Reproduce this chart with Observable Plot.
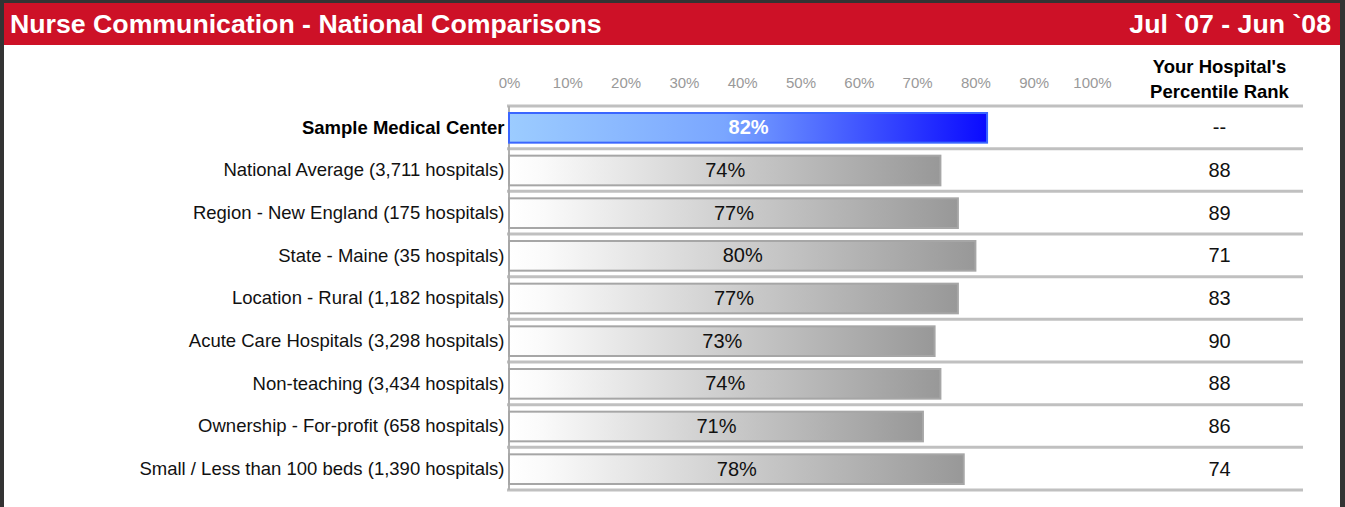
<!DOCTYPE html>
<html><head><meta charset="utf-8">
<script src="https://cdn.jsdelivr.net/npm/d3@7"></script>
<script src="https://cdn.jsdelivr.net/npm/@observablehq/plot@0.6"></script>
<style>
body{margin:0;background:#fff;font-family:Arial,"Liberation Sans",sans-serif;}
#wrap{position:relative;width:1345px;height:507px;overflow:hidden;background:#fff}
#hdr{position:absolute;left:0;top:0;width:1345px;height:45px;background:#cd1127;color:#fff;font-weight:bold;font-size:26.7px;line-height:30px}
#hdr .t{position:absolute;left:10px;top:9px;}
#hdr .d{position:absolute;right:14px;top:9px;}
.bl{position:absolute;left:0;top:0;width:4px;height:507px;background:#333}
.bt{position:absolute;left:0;top:0;width:1345px;height:3px;background:#333}
.br{position:absolute;right:0;top:0;width:5px;height:507px;background:#333}
#chart{position:absolute;left:0;top:45px}
</style></head>
<body>
<div id="wrap">
  <div id="hdr"><span class="t">Nurse Communication - National Comparisons</span><span class="d">Jul `07 - Jun `08</span></div>
  <div id="chart"></div>
  <div class="bt"></div><div class="bl"></div><div class="br"></div>
</div>
<script>
const categories = [
  "Sample Medical Center",
  "National Average (3,711 hospitals)",
  "Region - New England (175 hospitals)",
  "State - Maine (35 hospitals)",
  "Location - Rural (1,182 hospitals)",
  "Acute Care Hospitals (3,298 hospitals)",
  "Non-teaching (3,434 hospitals)",
  "Ownership - For-profit (658 hospitals)",
  "Small / Less than 100 beds (1,390 hospitals)"
];
const values = [82, 74, 77, 80, 77, 73, 74, 71, 78];
const ranks = ["--", "88", "89", "71", "83", "90", "88", "86", "74"];
const xTicks = [0, 10, 20, 30, 40, 50, 60, 70, 80, 90, 100];
const rankHeader = "Your Hospital's\nPercentile Rank";

const rows = categories.map((c, i) => ({i, category: c, value: values[i], rank: ranks[i], own: i === 0}));
const font = "Arial, 'Liberation Sans', sans-serif";

const defs = () => {
  const d = d3.create("svg:defs");
  const g = d.append("linearGradient").attr("id", "grayGrad").attr("x1", 0).attr("x2", 1).attr("y1", 0).attr("y2", 0);
  g.append("stop").attr("offset", "0%").attr("stop-color", "#ffffff");
  g.append("stop").attr("offset", "8%").attr("stop-color", "#fafafa");
  g.append("stop").attr("offset", "100%").attr("stop-color", "#989898");
  const b = d.append("linearGradient").attr("id", "blueGrad").attr("x1", 0).attr("x2", 1).attr("y1", 0).attr("y2", 0);
  b.append("stop").attr("offset", "0%").attr("stop-color", "#9cccff");
  b.append("stop").attr("offset", "45%").attr("stop-color", "#7aa6ff");
  b.append("stop").attr("offset", "100%").attr("stop-color", "#0a0aff");
  return d.node();
};

const chart = Plot.plot({
  width: 1345, height: 462,
  marginLeft: 507, marginRight: 42, marginTop: 61, marginBottom: 17,
  x: {domain: [0, 100], range: [509, 1092]},
  y: {domain: [0, categories.length], range: [61, 445], axis: null},
  style: {fontFamily: font, background: "transparent", overflow: "visible"},
  marks: [
    defs,
    Plot.axisX({anchor: "top", ticks: xTicks, tickFormat: d => d + "%", tickSize: 0, tickPadding: 19, fontSize: 15, color: "#999", label: null}),
    Plot.ruleY(d3.range(categories.length + 1), {stroke: "#c0c0c0", strokeWidth: 3, dy: -0.5}),
    Plot.ruleX([0], {stroke: "#b0b0b0", strokeWidth: 2, dx: -0.5}),
    Plot.rect(rows.filter(d => !d.own), {x1: 0, x2: "value", y1: "i", y2: d => d.i + 1, insetTop: 7, insetBottom: 6, fill: "url(#grayGrad)", stroke: "#a6a6a6", strokeWidth: 2}),
    Plot.rect(rows.filter(d => d.own), {x1: 0, x2: "value", y1: "i", y2: d => d.i + 1, insetTop: 7, insetBottom: 6, fill: "url(#blueGrad)", stroke: "#3a66ff", strokeWidth: 2}),
    Plot.text(rows.filter(d => !d.own), {x: d => d.value / 2, y: d => d.i + 0.5, text: d => d.value + "%", fontSize: 20, fill: "#111"}),
    Plot.text(rows.filter(d => d.own), {x: d => d.value / 2, y: d => d.i + 0.5, text: d => d.value + "%", fontSize: 20, fontWeight: "bold", fill: "#fff"}),
    Plot.text(rows.filter(d => !d.own), {x: 0, y: d => d.i + 0.5, text: "category", textAnchor: "end", dx: -5, fontSize: 18.5, fill: "#111"}),
    Plot.text(rows.filter(d => d.own), {x: 0, y: d => d.i + 0.5, text: "category", textAnchor: "end", dx: -5, fontSize: 18.5, fontWeight: "bold", fill: "#000"}),
    Plot.text(rows, {frameAnchor: "right", y: d => d.i + 0.5, text: "rank", textAnchor: "middle", dx: -84, fontSize: 20, fill: "#111"}),
    Plot.text([rankHeader], {frameAnchor: "top-right", text: d => d, textAnchor: "middle", dx: -84, dy: -9, lineAnchor: "bottom", lineHeight: 1.3, fontSize: 18.5, fontWeight: "bold", fill: "#000"})
  ]
});
document.getElementById("chart").appendChild(chart);
</script>
</body></html>
